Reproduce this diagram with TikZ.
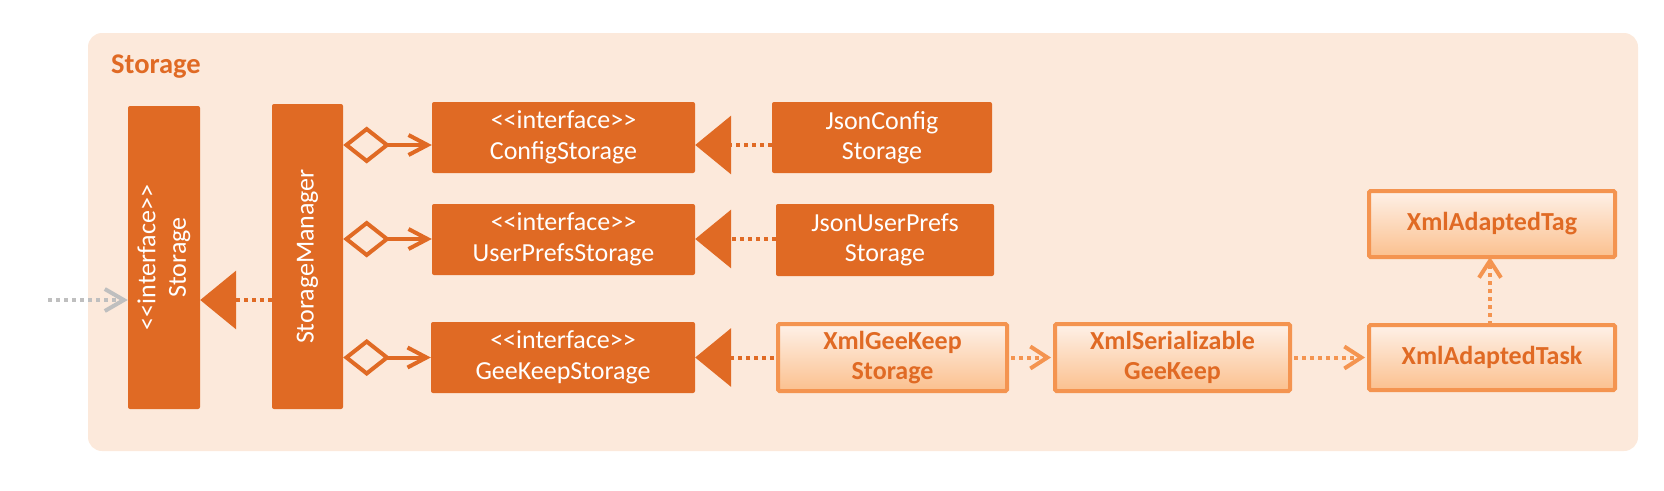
\documentclass[tikz,border=0pt]{standalone}
\usepackage{fontspec}
\setmainfont{Carlito}[Ligatures=TeXOff]
\usetikzlibrary{arrows.meta}
\definecolor{dorange}{HTML}{E06A24}
\definecolor{bgpeach}{HTML}{FCE9DB}
\definecolor{lborder}{HTML}{F49450}
\definecolor{gtop}{HTML}{FEF1E8}
\definecolor{gbot}{HTML}{FBC08E}
\definecolor{lgrey}{HTML}{BFBFBF}
\begin{document}
\begin{tikzpicture}[x=1pt,y=-1pt,
  darkbox/.style={fill=dorange, draw=none, rounded corners=2pt, text=white,
    font=\fontsize{26}{30.5}\selectfont, align=center, inner sep=0pt},
  lightbox/.style={draw=lborder, line width=4pt, top color=gtop, bottom color=gbot,
    rounded corners=1.5pt, text=dorange, font=\bfseries\fontsize{26}{30.5}\selectfont,
    align=center, inner sep=0pt},
  vtext/.style={text=white, font=\fontsize{26}{30.5}\selectfont, align=center, inner sep=0pt, rotate=90},
  agg/.style={draw=dorange, line width=4pt, line cap=round,
    {Diamond[open,length=47pt,width=37pt]}-{Straight Barb[length=19pt,width=20pt]}},
  real/.style={draw=dorange, line width=4pt, dash pattern=on 4pt off 4pt,
    -{Triangle[length=36pt,width=58pt]}},
  dep/.style={draw=lborder, line width=4pt, dash pattern=on 4pt off 4pt,
    -{Straight Barb[length=17pt,width=22pt]}},
  ext/.style={draw=lgrey, line width=4pt, dash pattern=on 4pt off 4pt,
    -{Straight Barb[length=19pt,width=22pt]}}
]
\useasboundingbox (0,0) rectangle (1664,490);
% package frame
\fill[bgpeach, rounded corners=14pt] (88,33) rectangle (1638,451);
\node[anchor=base west, text=dorange, font=\bfseries\fontsize{28.5}{34}\selectfont, inner sep=0pt] (title) at (111,73) {Storage};

% row coordinates
\coordinate (rowA) at (0,145);
\coordinate (rowB) at (0,239);
\coordinate (rowC) at (0,357.5);
\coordinate (rowS) at (0,300);
\coordinate (extsrc) at (48,300);

% vertical boxes
\node[darkbox, minimum width=72pt, minimum height=303pt] (storage) at (164,257.5) {};
\node[vtext] (storagelbl) at (storage.center) {<<interface>>\\Storage};
\node[darkbox, minimum width=71pt, minimum height=305pt] (smgr) at (307.5,256.5) {};
\node[vtext] (smgrlbl) at (smgr.center) {StorageManager};

% interfaces
\node[darkbox, minimum width=263pt, minimum height=71pt] (cfg) at (563.5,137.5) {<<interface>>\\ConfigStorage};
\node[darkbox, minimum width=263pt, minimum height=71pt] (upf) at (563.5,239.5) {<<interface>>\\UserPrefsStorage};
\node[darkbox, minimum width=264pt, minimum height=71pt] (gks) at (563,357.5) {<<interface>>\\GeeKeepStorage};

% implementations
\node[darkbox, minimum width=220pt, minimum height=71pt] (jcfg) at (882,137.5) {JsonConfig\\Storage};
\node[darkbox, minimum width=218pt, minimum height=72pt] (jupf) at (885,240) {JsonUserPrefs\\Storage};
\node[lightbox, minimum width=229pt, minimum height=67pt] (xgks) at (892.5,357.5) {XmlGeeKeep\\Storage};
\node[lightbox, minimum width=235pt, minimum height=67pt] (xser) at (1172.5,357.5) {XmlSerializable\\GeeKeep};
\node[lightbox, minimum width=246pt, minimum height=65pt] (xtask) at (1492,357.5) {XmlAdaptedTask};
\node[lightbox, minimum width=246pt, minimum height=66pt] (xtag) at (1492,224) {XmlAdaptedTag};

% connectors
\draw[ext] (extsrc) -- (storage.west |- rowS);
\draw[real] (smgr.west |- rowS) -- (storage.east |- rowS);
\draw[agg] (smgr.east |- rowA) -- (cfg.west |- rowA);
\draw[agg] (smgr.east |- rowB) -- (upf.west |- rowB);
\draw[agg] (smgr.east |- rowC) -- (gks.west |- rowC);
\draw[real] (jcfg.west |- rowA) -- (cfg.east |- rowA);
\draw[real] (jupf.west |- rowB) -- (upf.east |- rowB);
\draw[real] ([xshift=-2pt]xgks.west |- rowC) -- (gks.east |- rowC);
\draw[dep] ([xshift=2pt]xgks.east) -- ([xshift=-2pt]xser.west);
\draw[dep] ([xshift=2pt]xser.east) -- ([xshift=-2pt]xtask.west);
\draw[dep] ([xshift=-2pt,yshift=-2pt]xtask.north) -- ([xshift=-2pt,yshift=2pt]xtag.south);
\end{tikzpicture}
\end{document}
